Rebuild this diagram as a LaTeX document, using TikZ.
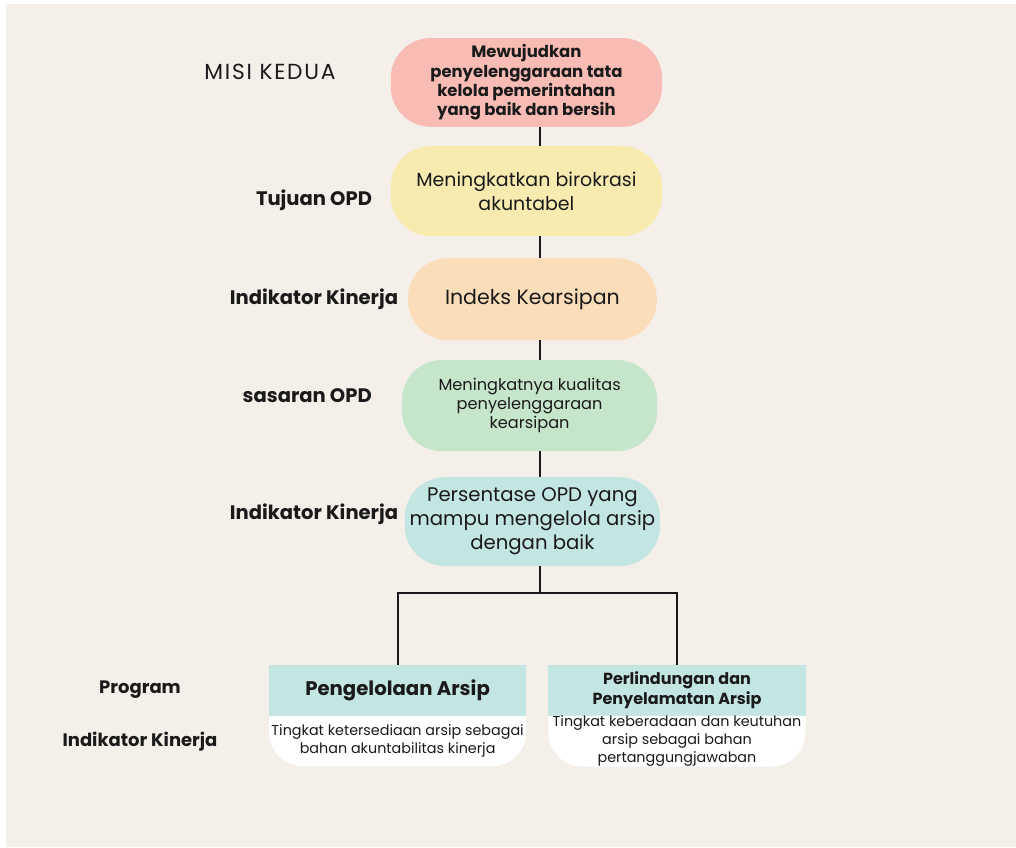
\documentclass[tikz,border=0pt]{standalone}
\usepackage{fontspec}
\setmainfont{Poppins}
\usetikzlibrary{positioning}
\definecolor{pagebg}{HTML}{F4EFE9}
\definecolor{misipink}{HTML}{F9BCB4}
\definecolor{tujuanyellow}{HTML}{F8EBB0}
\definecolor{ikpeach}{HTML}{FBDDBA}
\definecolor{sasarangreen}{HTML}{C6E6CB}
\definecolor{progcyan}{HTML}{C3E6E3}
\definecolor{inkdark}{HTML}{1A1A1A}

\begin{document}
\begin{tikzpicture}[
    pill/.style={rounded corners=1cm, align=center, text=inkdark, inner sep=0pt},
    sidelabel/.style={text=inkdark, font=\fontsize{13.9}{16}\selectfont\bfseries},
    boxtext/.style={font=\fontsize{13.5}{17}\selectfont},
    connector/.style={inkdark, line width=1.3pt},
    cardhead/.style={fill=progcyan, minimum width=6.43cm, minimum height=1.28cm, inner sep=0pt, align=center, text=inkdark},
    cardbody/.style={minimum width=6.43cm, minimum height=1.25cm, inner sep=0pt, align=center, text=inkdark,
      font=\fontsize{10.2}{12.8}\selectfont,
      path picture={\fill[white] (path picture bounding box.north west)
        -- ([yshift=0.85cm]path picture bounding box.south west)
        arc[start angle=180, end angle=270, radius=0.85cm]
        -- ([xshift=-0.85cm]path picture bounding box.south east)
        arc[start angle=270, end angle=360, radius=0.85cm]
        -- (path picture bounding box.north east) -- cycle;}}
  ]
  % Page background
  \fill[white] (0,0) rectangle (25.4,-21.175);
  \fill[pagebg] (0.15,-0.1) rectangle (25.4,-21.175);

  % Main column
  \node[pill, fill=misipink, minimum width=6.78cm, minimum height=2.22cm, font=\fontsize{11.7}{13.7}\selectfont\bfseries] (misi) at (13.16,-2.06) {Mewujudkan\\penyelenggaraan tata\\kelola pemerintahan\\yang baik dan bersih};
  \node[pill, fill=tujuanyellow, minimum width=6.78cm, minimum height=2.25cm, boxtext] (tujuan) at (13.16,-4.78) {Meningkatkan birokrasi\\akuntabel};
  \node[pill, fill=ikpeach, minimum width=6.22cm, minimum height=2.05cm, font=\fontsize{14.6}{17}\selectfont] (indeks) at (13.31,-7.48) {Indeks Kearsipan};
  \node[pill, fill=sasarangreen, minimum width=6.38cm, minimum height=2.28cm, font=\fontsize{11.5}{13.5}\selectfont] (sasaran) at (13.24,-10.14) {Meningkatnya kualitas\\penyelenggaraan\\kearsipan};
  \node[pill, fill=progcyan, minimum width=6.38cm, minimum height=2.22cm, font=\fontsize{14}{17}\selectfont] (persen) at (13.31,-13.04) {Persentase OPD yang\\mampu mengelola arsip\\dengan baik};

  % Left labels
  \node[text=inkdark, font=\fontsize{15.5}{17}\selectfont\addfontfeature{LetterSpace=8}] (lblmisi) at (6.75,-1.8) {MISI KEDUA};
  \node[sidelabel] (lbltujuan) at (7.85,-5.0) {Tujuan OPD};
  \node[sidelabel] (lblik1) at (7.85,-7.48) {Indikator Kinerja};
  \node[sidelabel] (lblsasaran) at (7.68,-9.88) {sasaran OPD};
  \node[sidelabel] (lblik2) at (7.85,-12.85) {Indikator Kinerja};
  \node[sidelabel, font=\fontsize{12.8}{15}\selectfont\bfseries] (lblprogram) at (3.5,-17.25) {Program};
  \node[sidelabel, font=\fontsize{12.8}{15}\selectfont\bfseries] (lblik3) at (3.5,-18.53) {Indikator Kinerja};

  % Program cards
  \node[cardhead, font=\fontsize{14}{16}\selectfont\bfseries] (kelola) at (9.94,-17.26) {Pengelolaan Arsip};
  \node[cardbody] (kelolaik) at (9.94,-18.53) {Tingkat ketersediaan arsip sebagai\\bahan akuntabilitas kinerja};
  \node[cardhead, font=\fontsize{11.4}{14}\selectfont\bfseries] (lindung) at (16.925,-17.26) {Perlindungan dan\\Penyelamatan Arsip};
  \node[cardbody] (lindungik) at (16.925,-18.53) {Tingkat keberadaan dan keutuhan\\arsip sebagai bahan\\pertanggungjawaban};

  % Connectors
  \coordinate (spine) at (13.5,0);
  \coordinate (branch) at (13.5,-14.83);
  \draw[connector] (misi.south -| spine) -- (tujuan.north -| spine);
  \draw[connector] (tujuan.south -| spine) -- (indeks.north -| spine);
  \draw[connector] (indeks.south -| spine) -- (sasaran.north -| spine);
  \draw[connector] (sasaran.south -| spine) -- (persen.north -| spine);
  \draw[connector] (persen.south -| spine) -- (branch);
  \draw[connector] (branch) -| (kelola.north);
  \draw[connector] (branch) -| (lindung.north);
\end{tikzpicture}
\end{document}
